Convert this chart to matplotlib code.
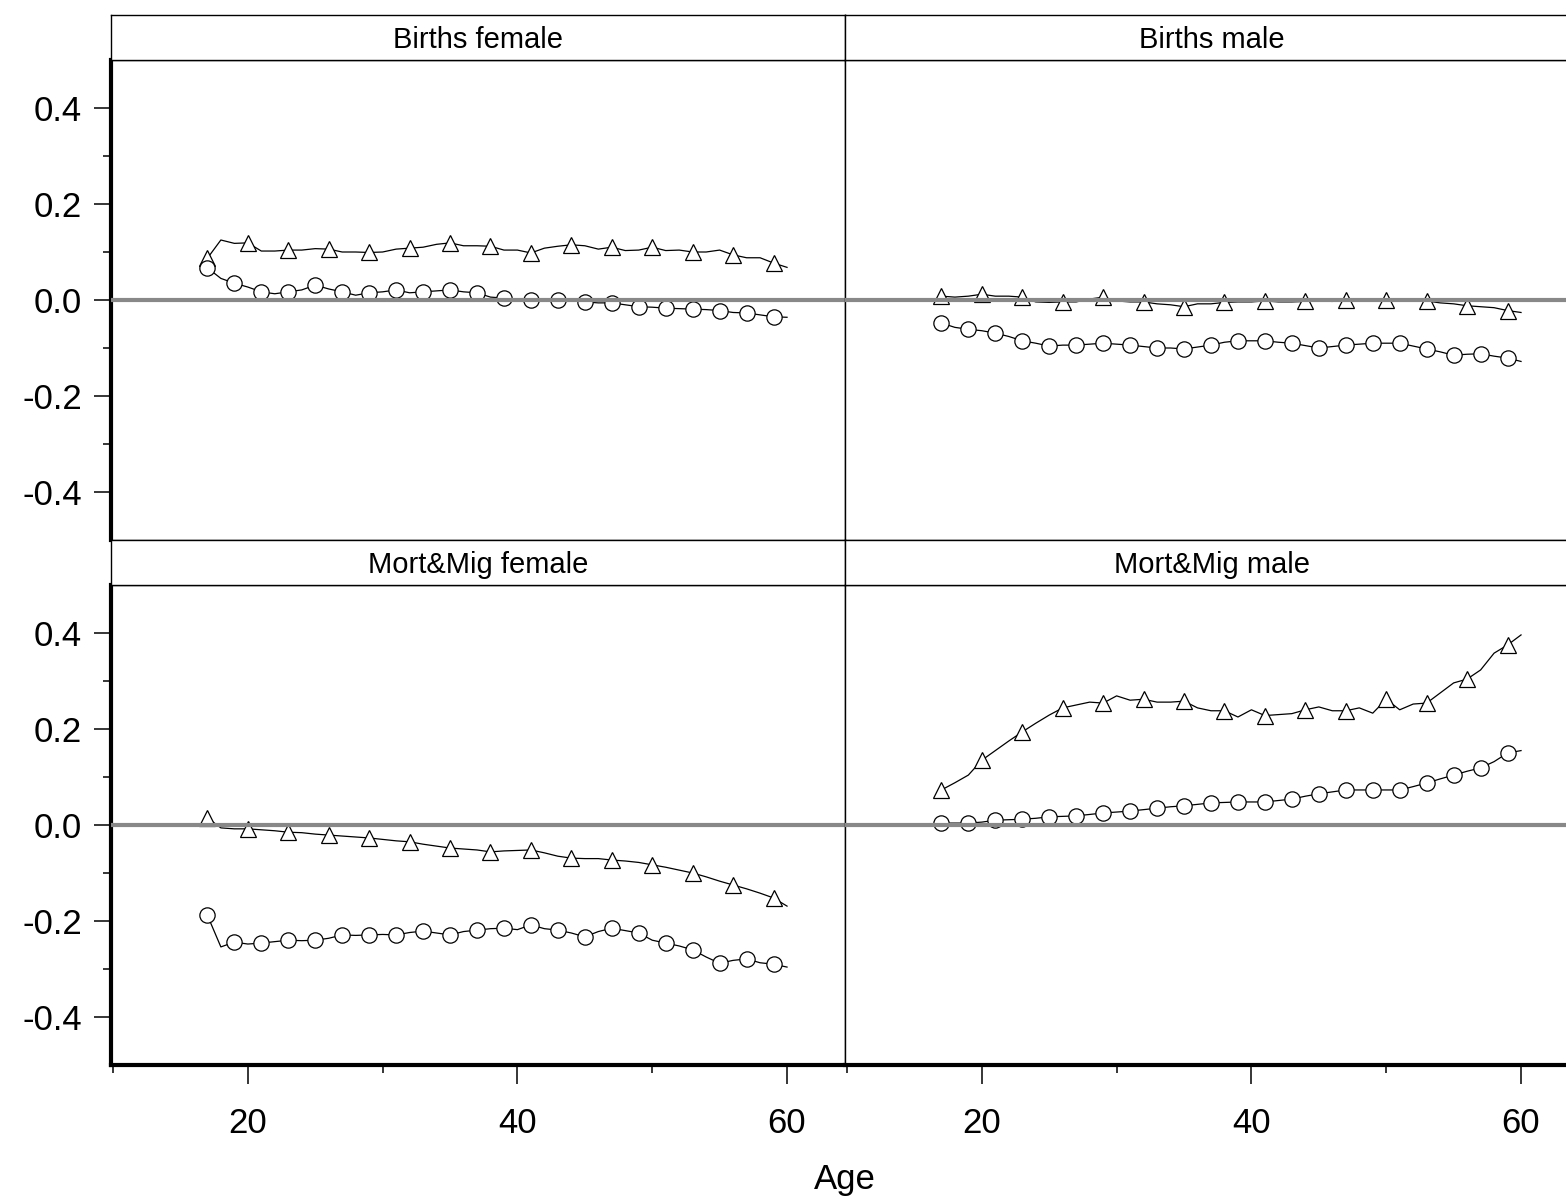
import numpy as np
import matplotlib
matplotlib.use("Agg")
from matplotlib import pyplot as plt
from matplotlib.ticker import MultipleLocator, FixedLocator

plt.rcParams['font.family'] = ['Liberation Sans', 'DejaVu Sans']

# edades 17..60
ages = list(range(17, 61))

# Births female
bf_tri = [0.087, 0.125, 0.118, 0.119, 0.102, 0.102, 0.104, 0.104, 0.107, 0.106,
          0.100, 0.100, 0.099, 0.100, 0.106, 0.108, 0.110, 0.116, 0.119, 0.113,
          0.113, 0.112, 0.104, 0.104, 0.098, 0.108, 0.112, 0.115, 0.113, 0.106,
          0.110, 0.103, 0.104, 0.110, 0.103, 0.104, 0.100, 0.100, 0.104, 0.094,
          0.088, 0.088, 0.077, 0.068]
bf_circ = [0.067, 0.045, 0.035, 0.027, 0.017, 0.013, 0.017, 0.021, 0.031, 0.023,
           0.017, 0.010, 0.015, 0.017, 0.021, 0.015, 0.017, 0.019, 0.021, 0.017,
           0.015, 0.006, 0.004, 0.002, 0.000, 0.002, 0.000, -0.002, -0.004, -0.006,
           -0.006, -0.010, -0.014, -0.015, -0.017, -0.018, -0.019, -0.020, -0.022, -0.026,
           -0.027, -0.031, -0.035, -0.036]

# Births male
bm_tri = [0.008, 0.006, 0.008, 0.012, 0.008, 0.008, 0.006, -0.004, -0.005, -0.004,
          -0.004, 0.002, 0.006, -0.002, -0.004, -0.004, -0.008, -0.010, -0.014, -0.008,
          -0.008, -0.005, -0.004, -0.004, -0.002, -0.004, -0.004, -0.003, -0.002, -0.003,
          0.001, 0.000, 0.001, 0.001, -0.002, -0.002, -0.002, -0.006, -0.008, -0.012,
          -0.014, -0.016, -0.022, -0.026]
bm_circ = [-0.048, -0.057, -0.061, -0.064, -0.069, -0.076, -0.085, -0.090, -0.096, -0.094,
           -0.094, -0.092, -0.090, -0.092, -0.094, -0.097, -0.100, -0.100, -0.102, -0.098,
           -0.094, -0.088, -0.085, -0.085, -0.085, -0.088, -0.090, -0.095, -0.100, -0.097,
           -0.094, -0.092, -0.090, -0.090, -0.090, -0.096, -0.102, -0.108, -0.115, -0.113,
           -0.112, -0.117, -0.121, -0.128]

# Mort&Mig female
mf_tri = [0.015, -0.006, -0.008, -0.008, -0.010, -0.012, -0.015, -0.016, -0.019, -0.021,
          -0.023, -0.025, -0.027, -0.030, -0.033, -0.035, -0.040, -0.044, -0.048, -0.050,
          -0.052, -0.056, -0.054, -0.053, -0.052, -0.058, -0.065, -0.069, -0.070, -0.070,
          -0.073, -0.075, -0.078, -0.083, -0.088, -0.094, -0.100, -0.108, -0.117, -0.125,
          -0.133, -0.142, -0.152, -0.169]
mf_circ = [-0.188, -0.254, -0.244, -0.248, -0.246, -0.243, -0.240, -0.241, -0.240, -0.236,
           -0.229, -0.230, -0.229, -0.228, -0.229, -0.224, -0.221, -0.225, -0.229, -0.222,
           -0.219, -0.216, -0.215, -0.218, -0.208, -0.216, -0.219, -0.225, -0.233, -0.222,
           -0.215, -0.220, -0.225, -0.240, -0.246, -0.252, -0.260, -0.275, -0.288, -0.282,
           -0.279, -0.287, -0.290, -0.296]

# Mort&Mig male
mm_tri = [0.073, 0.088, 0.104, 0.135, 0.155, 0.175, 0.194, 0.212, 0.229, 0.244,
          0.250, 0.256, 0.254, 0.269, 0.260, 0.262, 0.256, 0.256, 0.258, 0.244,
          0.238, 0.238, 0.225, 0.240, 0.228, 0.230, 0.232, 0.240, 0.246, 0.238,
          0.238, 0.244, 0.233, 0.262, 0.240, 0.252, 0.254, 0.275, 0.296, 0.304,
          0.323, 0.358, 0.375, 0.396]
mm_circ = [0.004, 0.004, 0.004, 0.006, 0.010, 0.011, 0.012, 0.014, 0.017, 0.018,
           0.019, 0.022, 0.025, 0.027, 0.029, 0.032, 0.035, 0.038, 0.040, 0.043,
           0.046, 0.047, 0.048, 0.048, 0.048, 0.051, 0.054, 0.060, 0.065, 0.069,
           0.073, 0.073, 0.073, 0.073, 0.073, 0.080, 0.0875, 0.096, 0.104, 0.112,
           0.119, 0.132, 0.150, 0.155]

titulos = ['Births female', 'Births male', 'Mort&Mig female', 'Mort&Mig male']
series = [(bf_tri, bf_circ), (bm_tri, bm_circ), (mf_tri, mf_circ), (mm_tri, mm_circ)]

W, H = 1566, 1201
fig = plt.figure(figsize=(W / 100, H / 100), dpi=100)

x0, pw = 111, 734
tops = [60, 585]
ph = 480
sh = 45

def fx(px):
    return px / W

def fy(py):
    return 1 - py / H

for i in range(4):
    fila, col = divmod(i, 2)
    left = x0 + col * pw
    top = tops[fila]
    ax = fig.add_axes([fx(left), fy(top + ph), pw / W, ph / H])
    tri, circ = series[i]
    ax.plot(ages, tri, color='black', lw=0.9, marker='^', markersize=11,
            markerfacecolor='white', markeredgecolor='black', markeredgewidth=0.9,
            markevery=3, zorder=3)
    ax.plot(ages, circ, color='black', lw=0.9, marker='o', markersize=11,
            markerfacecolor='white', markeredgecolor='black', markeredgewidth=0.9,
            markevery=2, zorder=3)
    ax.axhline(0, color='#888888', lw=3, zorder=4)
    ax.set_xlim(9.85, 64.3)
    ax.set_ylim(-0.5, 0.5)
    for s in ax.spines.values():
        s.set_linewidth(1.0)
    if col == 0:
        ax.spines['left'].set_linewidth(3)
        ax.yaxis.set_major_locator(FixedLocator([-0.4, -0.2, 0.0, 0.2, 0.4]))
        ax.yaxis.set_minor_locator(FixedLocator([-0.3, -0.1, 0.1, 0.3]))
        ax.tick_params(axis='y', which='major', length=12, width=1.1, pad=9, labelsize=25)
        ax.tick_params(axis='y', which='minor', length=6, width=1.1)
        ax.set_yticklabels(['%.1f' % v for v in ax.get_yticks()])
    else:
        ax.tick_params(axis='y', which='both', left=False, labelleft=False)
    if fila == 1:
        ax.spines['bottom'].set_linewidth(3)
        ax.xaxis.set_major_locator(MultipleLocator(20))
        ax.xaxis.set_minor_locator(MultipleLocator(10))
        ax.tick_params(axis='x', which='major', length=14, width=1.1, pad=16, labelsize=25)
        ax.tick_params(axis='x', which='minor', length=6, width=1.1)
    else:
        ax.tick_params(axis='x', which='both', bottom=False, labelbottom=False)

    # cabecera
    sx = fig.add_axes([fx(left), fy(top), pw / W, sh / H])
    sx.set_xticks([])
    sx.set_yticks([])
    for s in sx.spines.values():
        s.set_linewidth(1.0)
    sx.text(0.5, 0.44, titulos[i], ha='center', va='center', fontsize=21,
            transform=sx.transAxes)

fig.text(fx(845), fy(1180), 'Age', ha='center', va='center', fontsize=25)

fig.savefig('out.png', dpi=100)
